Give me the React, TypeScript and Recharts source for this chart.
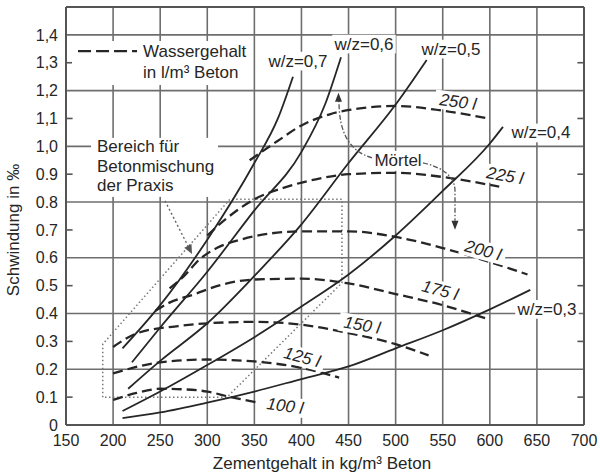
import React from 'react';
import { LineChart, Line, XAxis, YAxis, CartesianGrid, ReferenceLine, ReferenceDot } from 'recharts';

const FONT = '"Liberation Sans", Arial, Helvetica, sans-serif';
const INK = '#262626';
const GRID = '#6e6e6e';

// axes
const xTicks = [150, 200, 250, 300, 350, 400, 450, 500, 550, 600, 650, 700];
const yTicks = [0, 0.1, 0.2, 0.3, 0.4, 0.5, 0.6, 0.7, 0.8, 0.9, 1.0, 1.1, 1.2, 1.3, 1.4];
const yTickLabels = ['0', '0.1', '0.2', '0.3', '0.4', '0.5', '0.6', '0.7', '0.8', '0.9', '1,0', '1,1', '1,2', '1,3', '1,4'];
const xGrid = [150, 200, 250, 300, 350, 400, 450, 500, 550, 600, 650, 700];
const yGrid = [0, 0.2, 0.4, 0.6, 0.8, 1.0, 1.2, 1.4, 1.5];
const yMinor = [0.1, 0.3, 0.5, 0.7, 0.9, 1.1, 1.3];

// solid curves: constant w/z  [Zementgehalt, Schwindung]
const wz03 = [[210, 0.025], [250, 0.045], [300, 0.08], [350, 0.12], [400, 0.165], [450, 0.21], [500, 0.275], [550, 0.34], [600, 0.415], [643, 0.485]];
const wz04 = [[210, 0.05], [250, 0.12], [300, 0.215], [350, 0.315], [400, 0.425], [450, 0.54], [500, 0.68], [550, 0.84], [600, 1.01], [614, 1.07]];
const wz05 = [[216, 0.13], [250, 0.23], [300, 0.365], [350, 0.535], [400, 0.72], [450, 0.94], [500, 1.15], [533, 1.31]];
const wz06 = [[220, 0.225], [250, 0.35], [300, 0.55], [350, 0.77], [400, 0.98], [425, 1.15], [442, 1.32]];
const wz07 = [[210, 0.275], [250, 0.43], [300, 0.665], [350, 0.94], [375, 1.1], [391, 1.25]];

// dashed curves: constant water content (l/m³)
const w100 = [[200, 0.09], [225, 0.115], [250, 0.13], [275, 0.128], [300, 0.12], [325, 0.1], [355, 0.08]];
const w125 = [[200, 0.185], [250, 0.225], [300, 0.235], [350, 0.228], [400, 0.205], [440, 0.17]];
const w150 = [[200, 0.28], [226, 0.33], [269, 0.355], [300, 0.365], [350, 0.37], [400, 0.36], [450, 0.33], [500, 0.29], [535, 0.25]];
const w175 = [[245, 0.41], [258, 0.436], [287, 0.47], [316, 0.504], [350, 0.522], [400, 0.525], [450, 0.508], [500, 0.47], [550, 0.43], [598, 0.38]];
const w200 = [[260, 0.49], [276, 0.537], [292, 0.595], [310, 0.635], [335, 0.665], [400, 0.695], [450, 0.695], [500, 0.675], [550, 0.635], [600, 0.585], [640, 0.54]];
const w225 = [[300, 0.68], [320, 0.74], [350, 0.81], [380, 0.85], [420, 0.885], [450, 0.9], [500, 0.905], [550, 0.89], [610, 0.855]];
const w250 = [[345, 0.95], [375, 1.02], [400, 1.075], [430, 1.115], [460, 1.135], [500, 1.145], [550, 1.128], [598, 1.1]];

// dotted region "Bereich für Betonmischung der Praxis"
const praxis = [[189, 0.1], [189, 0.29], [324, 0.81], [443, 0.81], [443, 0.51], [321, 0.1], [189, 0.1]];

const solidSeries = [wz03, wz04, wz05, wz06, wz07];
const dashedSeries = [w100, w125, w150, w175, w200, w225, w250];

// labels [x, y, text, rotation]
const wzLabels: [number, number, string, number][] = [
  [396.3, 1.306, 'w/z=0,7', 0],
  [466.4, 1.367, 'w/z=0,6', 0],
  [558.8, 1.349, 'w/z=0,5', 0],
  [654.3, 1.048, 'w/z=0,4', 0],
  [660.7, 0.415, 'w/z=0,3', 0],
];
const waterLabels: [number, number, string, number][] = [
  [566.2, 1.159, '250 l', 8],
  [616.1, 0.894, '225 l', 10],
  [592.8, 0.626, '200 l', 15],
  [547.1, 0.483, '175 l', 15],
  [464.3, 0.358, '150 l', 10],
  [400.6, 0.243, '125 l', 15],
  [382.5, 0.068, '100 l', 8],
];

const toPts = (arr: number[][]) => arr.map(([x, y]) => ({ x, y }));

function XTick({ x, y, payload }: any) {
  return (
    <text x={x} y={y} dy="0.71em" textAnchor="middle" fontSize={16} fill={INK} fontFamily={FONT}>
      {payload.value}
    </text>
  );
}

function YTick({ x, y, payload }: any) {
  const i = yTicks.findIndex((t) => Math.abs(t - payload.value) < 1e-6);
  return (
    <text x={x} y={y} dy="0.355em" textAnchor="end" fontSize={16} fill={INK} fontFamily={FONT}>
      {i >= 0 ? yTickLabels[i] : ''}
    </text>
  );
}

function noteShape(text: string, rot: number, italic = false) {
  return (p: any) => {
    const size = 17;
    const w = text.length * size * 0.5;
    return (
      <g transform={`translate(${p.cx},${p.cy}) rotate(${rot})`}>
        <rect x={-w / 2 - 2} y={-size * 0.55} width={w + 4} height={size * 1.1} fill="#fff" />
        <text textAnchor="middle" dominantBaseline="central" fontSize={size} fill={INK} fontFamily={FONT} fontStyle={italic ? 'italic' : 'normal'}>
          {text}
        </text>
      </g>
    );
  };
}

function legendShape(p: any) {
  return (
    <g transform={`translate(${p.cx},${p.cy})`} fontFamily={FONT} fontSize={17} fill={INK}>
      <rect x={-71} y={-10} width={180} height={44} fill="#fff" />
      <line x1={-65} y1={0} x2={-6} y2={0} stroke={INK} strokeWidth={2.2} strokeDasharray="13 5" />
      <text x={0} y={0} dominantBaseline="central">Wassergehalt</text>
      <text x={0} y={21} dominantBaseline="central">in l/m³ Beton</text>
    </g>
  );
}

function bereichShape(p: any) {
  return (
    <g transform={`translate(${p.cx},${p.cy})`} fontFamily={FONT} fontSize={17} fill={INK}>
      <rect x={-6} y={-9} width={127} height={59} fill="#fff" />
      <text x={0} y={0} dominantBaseline="central">Bereich für</text>
      <text x={0} y={19.5} dominantBaseline="central">Betonmischung</text>
      <text x={0} y={39} dominantBaseline="central">der Praxis</text>
      <line x1={68} y1={54} x2={91} y2={99} stroke="#666" strokeWidth={1.4} strokeDasharray="2 2.5" />
      <polygon points="95,107 87.3,100.8 94.5,97.2" fill="#555" />
    </g>
  );
}

function moertelShape(p: any) {
  return (
    <g transform={`translate(${p.cx},${p.cy})`}>
      <rect x={-26} y={-10} width={52} height={20} fill="#fff" />
      <text textAnchor="middle" dominantBaseline="central" fontSize={17} fill={INK} fontFamily={FONT}>
        Mörtel
      </text>
      <path d="M -26 -3 C -50 -10, -59 -30, -59 -60" fill="none" stroke="#555" strokeWidth={1.3} strokeDasharray="5 2 1.5 2" />
      <polygon points="-59.5,-68 -63,-59 -56,-59" fill="#333" />
      <path d="M 25 2 C 42 6, 57 14, 57 30 L 57 60" fill="none" stroke="#555" strokeWidth={1.3} strokeDasharray="5 2 1.5 2" />
      <polygon points="57,69 53.5,60 60.5,60" fill="#333" />
    </g>
  );
}

export default function App() {
  return (
    <div style={{ position: 'fixed', left: 0, top: 0, width: 600, height: 476, background: '#fff' }}>
      <LineChart width={600} height={476} margin={{ top: 7, right: 16, left: 6, bottom: 6 }}>
        <CartesianGrid horizontalValues={yGrid} verticalValues={xGrid} stroke={GRID} strokeWidth={1.6} />
        <XAxis
          type="number"
          dataKey="x"
          domain={[150, 700]}
          ticks={xTicks}
          interval={0}
          height={45}
          tickSize={0}
          tickMargin={10}
          tick={<XTick />}
          axisLine={{ stroke: '#555', strokeWidth: 2 }}
          tickLine={false}
          allowDataOverflow
        />
        <YAxis
          type="number"
          domain={[0, 1.5]}
          ticks={yTicks}
          interval={0}
          width={60}
          tickSize={0}
          tickMargin={8}
          tick={<YTick />}
          axisLine={{ stroke: '#555', strokeWidth: 2 }}
          tickLine={false}
          allowDataOverflow
        />
        <ReferenceLine y={1.5} stroke="#555" strokeWidth={2} />
        <ReferenceLine x={700} stroke="#555" strokeWidth={2} />
        {yMinor.map((v) => (
          <ReferenceLine key={'l' + v} segment={[{ x: 150, y: v }, { x: 157, y: v }]} stroke="#555" strokeWidth={1.6} />
        ))}
        {yMinor.map((v) => (
          <ReferenceLine key={'r' + v} segment={[{ x: 693, y: v }, { x: 700, y: v }]} stroke="#555" strokeWidth={1.6} />
        ))}

        <ReferenceDot x={231.8} y={1.342} r={0} shape={legendShape} />
        <ReferenceDot x={182.9} y={0.998} r={0} shape={bereichShape} />
        <ReferenceDot x={502.5} y={0.948} r={0} shape={moertelShape} />
        {wzLabels.map(([x, y, t, r]) => (
          <ReferenceDot key={t} x={x} y={y} r={0} shape={noteShape(t, r)} />
        ))}
        {waterLabels.map(([x, y, t, r]) => (
          <ReferenceDot key={t} x={x} y={y} r={0} shape={noteShape(t, r, true)} />
        ))}

        <Line
          data={toPts(praxis)}
          dataKey="y"
          type="linear"
          stroke="#777"
          strokeWidth={1.5}
          strokeDasharray="1.5 2.5"
          dot={false}
          isAnimationActive={false}
        />
        {dashedSeries.map((s, i) => (
          <Line
            key={'d' + i}
            data={toPts(s)}
            dataKey="y"
            type="monotone"
            stroke={INK}
            strokeWidth={2.3}
            strokeDasharray="10 5"
            dot={false}
            isAnimationActive={false}
          />
        ))}
        {solidSeries.map((s, i) => (
          <Line
            key={'s' + i}
            data={toPts(s)}
            dataKey="y"
            type="monotone"
            stroke={INK}
            strokeWidth={1.8}
            dot={false}
            isAnimationActive={false}
          />
        ))}
      </LineChart>
      <svg width={600} height={476} style={{ position: 'absolute', left: 0, top: 0, pointerEvents: 'none' }}>
        <text x={322} y={469} textAnchor="middle" fontSize={17} fill={INK} fontFamily={FONT}>
          Zementgehalt in kg/m³ Beton
        </text>
        <text transform="translate(19,230) rotate(-90)" textAnchor="middle" fontSize={17} fill={INK} fontFamily={FONT}>
          Schwindung in ‰
        </text>
      </svg>
    </div>
  );
}
